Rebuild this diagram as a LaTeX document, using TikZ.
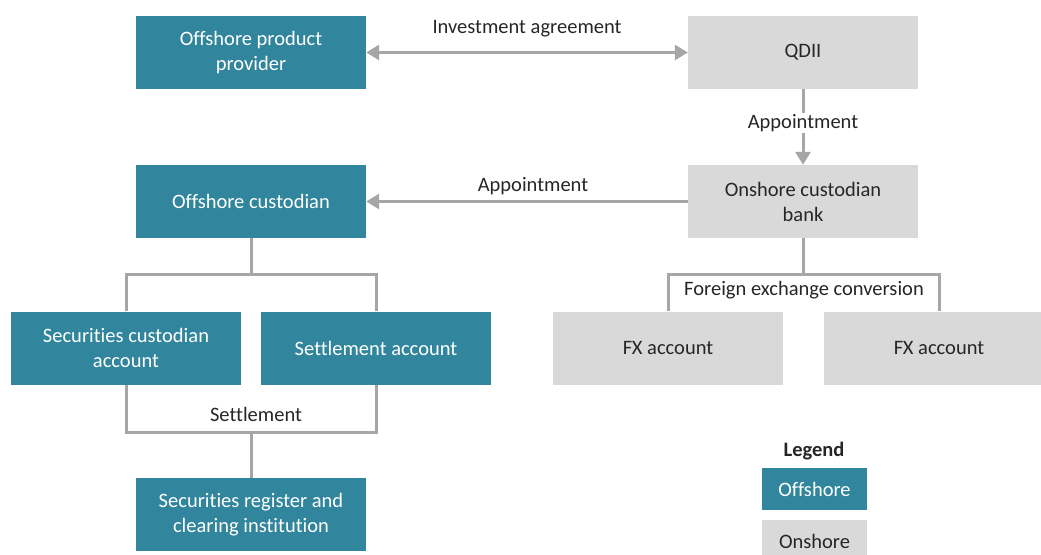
\documentclass[tikz,border=0pt]{standalone}
\usepackage{fontspec}
\setmainfont{Carlito}[Ligatures={NoCommon}]
\usetikzlibrary{arrows.meta}
\definecolor{teal}{HTML}{31859C}
\definecolor{lgray}{HTML}{D9D9D9}
\definecolor{lnc}{HTML}{A6A6A6}
\definecolor{txt}{HTML}{262626}
\begin{document}
\begin{tikzpicture}[x=1pt,y=-1pt,
  box/.style={minimum width=230pt,minimum height=73pt,inner sep=0pt,align=center,font=\fontsize{20.5}{25}\selectfont},
  offb/.style={box,fill=teal,text=white},
  onb/.style={box,fill=lgray,text=txt},
  conn/.style={draw=lnc,line width=3pt},
  arr/.style={conn,-{Triangle[width=15pt,length=13pt]}},
  lbl/.style={font=\fontsize{20.5}{25}\selectfont,text=txt,inner sep=1pt},
  lblw/.style={lbl,fill=white}]
\useasboundingbox (0,0) rectangle (1041,554);
\node[offb] (opp) at (251,52.5) {Offshore product\\provider};
\node[onb] (qdii) at (803,52.5) {QDII};
\node[offb] (oc) at (251,201.5) {Offshore custodian};
\node[onb] (ocb) at (803,201.5) {Onshore custodian\\bank};
\node[offb] (sca) at (126,348) {Securities custodian\\account};
\node[offb] (sa) at (376,348) {Settlement account};
\node[onb] (fx1) at (668,348) {FX account};
\node[onb] (fx2) at (939,348) {FX account};
\node[offb] (sr) at (251,514.5) {Securities register and\\clearing institution};
% legend
\node[font=\fontsize{20.5}{25}\selectfont\bfseries,text=txt] (lg) at (814,451) {Legend};
\node[offb,minimum width=105pt,minimum height=42pt] (lo) at (814.5,489) {Offshore};
\node[onb,minimum width=105pt,minimum height=42pt] (ln) at (814.5,541) {Onshore};
% connectors
\draw[conn,{Triangle[width=15pt,length=13pt]}-{Triangle[width=15pt,length=13pt]}] (opp.east) -- (qdii.west);
\node[lbl] (lia) at (527,29) {Investment agreement};
\draw[arr] (qdii.south) -- (ocb.north);
\node[lblw] (lap1) at (803,123) {Appointment};
\draw[arr] (ocb.west) -- (oc.east);
\node[lbl] (lap2) at (533,186) {Appointment};
% offshore custodian tree
\coordinate (t1) at (251,274);
\draw[conn] (oc.south) -- (t1);
\draw[conn] (sca.north) |- (t1) -| (sa.north);
\coordinate (t2) at (251,432);
\draw[conn] (sca.south) |- (t2) -| (sa.south);
\draw[conn] (t2) -- (sr.north);
\node[lbl] (lset) at (256,414) {Settlement};
% onshore tree
\coordinate (t3) at (803,274);
\draw[conn] (ocb.south) -- (t3);
\draw[conn] (fx1.north) |- (t3) -| (fx2.north);
\node[lblw] (lfx) at (804,290) {Foreign exchange conversion};
\end{tikzpicture}
\end{document}
